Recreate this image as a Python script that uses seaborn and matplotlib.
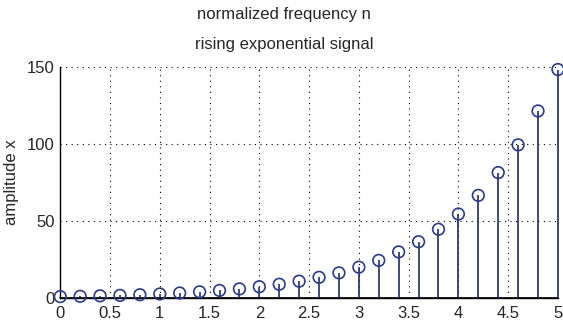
import matplotlib
matplotlib.use("Agg")
import matplotlib.pyplot as plt
import seaborn as sns
import numpy as np

sns.set_theme(style="white")
plt.rcParams['font.family'] = ['Liberation Sans Narrow', 'Liberation Sans', 'DejaVu Sans']

n_values = [0.0, 0.2, 0.4, 0.6, 0.8, 1.0, 1.2, 1.4, 1.6, 1.8, 2.0, 2.2, 2.4,
            2.6, 2.8, 3.0, 3.2, 3.4, 3.6, 3.8, 4.0, 4.2, 4.4, 4.6, 4.8, 5.0]
x_values = [1.0, 1.2, 1.5, 1.8, 2.2, 2.7, 3.3, 4.1, 5.0, 6.0, 7.4, 9.0, 11.0,
            13.5, 16.4, 20.1, 24.5, 30.0, 36.6, 44.7, 54.6, 66.7, 81.5, 99.5,
            121.5, 148.4]
x_ticks = [0, 0.5, 1, 1.5, 2, 2.5, 3, 3.5, 4, 4.5, 5]
y_ticks = [0, 50, 100, 150]
title_lines = ["normalized frequency n", "rising exponential signal"]
ylabel = "amplitude x"

fig = plt.figure(figsize=(5.63, 3.32), dpi=100)
ax = fig.add_axes([0.107, 0.102, 0.884, 0.696])

stem_color = "#1c2a6b"
ax.vlines(n_values, 0, x_values, color=stem_color, linewidth=1.2, zorder=3)
sc = sns.scatterplot(x=n_values, y=x_values, ax=ax, marker="o", s=70,
                     facecolor="none", edgecolor="#2a3a8c", linewidth=1.2, zorder=4)
for coll in ax.collections:
    coll.set_clip_on(False)
ax.axhline(0, color="black", linewidth=1.2, zorder=2)

ax.set_xlim(0, 5)
ax.set_ylim(0, 150)
ax.set_xticks(x_ticks)
ax.set_xticklabels([f"{t:g}" for t in x_ticks])
ax.set_yticks(y_ticks)
ax.grid(True, color="black", linestyle=(0, (1, 4)), linewidth=0.8)
ax.tick_params(axis="both", labelsize=12, direction="in", length=4, color="black")
ax.tick_params(axis="x", pad=6)
ax.tick_params(axis="y", pad=4)
for side in ["top", "right"]:
    ax.spines[side].set_visible(False)
for side in ["left", "bottom"]:
    ax.spines[side].set_color("black")
    ax.spines[side].set_linewidth(1.0)
ax.set_ylabel(ylabel, fontsize=12, labelpad=6)
fig.text(0.505, 0.955, title_lines[0], ha="center", va="center", fontsize=12)
fig.text(0.505, 0.865, title_lines[1], ha="center", va="center", fontsize=12)

fig.savefig("out.png", dpi=100, facecolor="white")
